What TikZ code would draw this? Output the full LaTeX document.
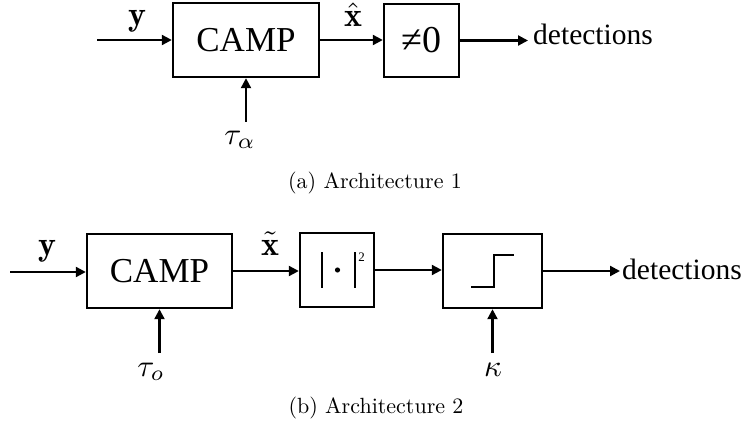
\documentclass[tikz,border=0pt]{standalone}
\usepackage{graphicx}
\usepackage{fontspec}
\newfontfamily\tms{Liberation Serif}
\usetikzlibrary{arrows.meta}
\newcommand{\lblbig}[1]{\scalebox{3.4}{$#1$}}
\newcommand{\lblmed}[1]{\scalebox{3.1}{$#1$}}
\newcommand{\captxt}[1]{\scalebox{2.2}{\fontsize{10}{12}\selectfont #1}}
\begin{document}
\begin{tikzpicture}[x=1pt,y=-1pt,
  blk/.style={draw, line width=2.4pt, inner sep=0pt, font=\tms\fontsize{35}{40}\selectfont},
  conn/.style={line width=2.2pt, -{Triangle[length=10pt,width=10pt]}},
  lbl/.style={inner sep=0pt},
  det/.style={inner sep=0pt, anchor=base west, font=\tms\fontsize{29.5}{34}\selectfont},
  captext/.style={inner sep=0pt},
  glyph/.style={line width=2.4pt}]
\useasboundingbox (0,0) rectangle (746,430);
% ---------- Architecture 1 ----------
\node[blk, minimum width=146pt, minimum height=74pt] (camp1) at (246,40) {CAMP};
\node[blk, minimum width=75pt, minimum height=73pt, font=\tms\fontsize{38}{42}\selectfont] (neq) at (421.5,40.5) {≠0};
\node[det] (det1) at (533,45) {detections};
\coordinate (in1) at (97,40);
\coordinate (t1) at (246,122);
\draw[conn] (in1) -- (in1 -| camp1.west);
\draw[conn] (camp1.east) -- (camp1.east -| neq.west);
\draw[conn] (neq.east) -- ([xshift=-5pt]neq.east -| det1.west);
\draw[conn] (t1) -- (camp1.south);
\node[lbl, anchor=base] (ylab1) at (137,26) {\lblbig{\mathbf{y}}};
\node[lbl, anchor=base] (xlab1) at (353,27) {\lblbig{\hat{\mathbf{x}}}};
\node[lbl] (tau1) at (240,140) {\lblmed{\tau_\alpha}};
\node[captext] (capa) at (375,183) {\captxt{(a)\ Architecture 1}};
% ---------- Architecture 2 ----------
\node[blk, minimum width=145pt, minimum height=74pt] (camp2) at (159.5,271) {CAMP};
\node[blk, minimum width=74pt, minimum height=74pt] (sq) at (337,270) {};
\node[blk, minimum width=99pt, minimum height=74pt] (stp) at (492.5,271) {};
\node[det] (det2) at (622,279) {detections};
\coordinate (in2) at (10,272);
\coordinate (t2) at (159.5,353);
\coordinate (k2) at (492.5,353);
\draw[conn] (in2) -- (in2 -| camp2.west);
\draw[conn] (camp2.east) -- (camp2.east -| sq.west);
\draw[conn] (sq.east) -- (sq.east -| stp.west);
\draw[conn] (stp.east) -- ([xshift=-2pt]stp.east -| det2.west);
\draw[conn] (t2) -- (camp2.south);
\draw[conn] (k2) -- (stp.south);
% |.|^2 symbol
\draw[glyph] (322,252) -- (322,288);
\draw[glyph] (355,252) -- (355,288);
\fill (337.5,270) circle (2.6pt);
\node[inner sep=0pt, font=\tms\fontsize{13}{14}\selectfont] (sup) at (361.5,257) {2};
% step symbol
\draw[glyph] (471,287) -- (494,287) -- (494,255) -- (514,255);
\node[lbl, anchor=base] (ylab2) at (47,255) {\lblbig{\mathbf{y}}};
\node[lbl, anchor=base] (xlab2) at (270,255) {\lblbig{\tilde{\mathbf{x}}}};
\node[lbl] (tau2) at (151,372) {\lblmed{\tau_o}};
\node[lbl] (kap) at (493,370) {\lblmed{\kappa}};
\node[captext] (capb) at (376,408) {\captxt{(b)\ Architecture 2}};
\end{tikzpicture}
\end{document}
